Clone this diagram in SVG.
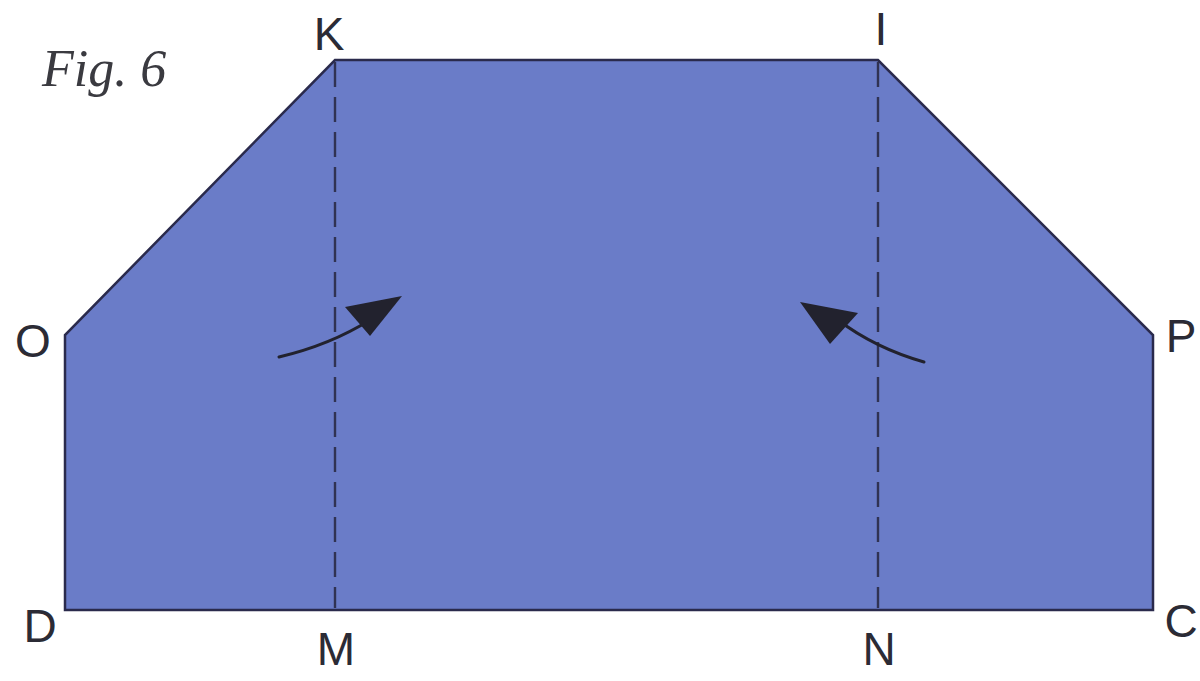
<svg xmlns="http://www.w3.org/2000/svg" width="1200" height="681" viewBox="0 0 1200 681">
<style>
.lbl{font-family:"Liberation Sans",Arial,sans-serif;font-size:46px;fill:#2b2b35}
.fold{stroke:#303252;stroke-width:2.4;stroke-dasharray:25 10;fill:none}
.arr{stroke:#22222e;stroke-width:3;fill:none;stroke-linecap:round}
.head{fill:#22222e}
</style>
<rect width="1200" height="681" fill="#ffffff"/>
<g id="paper">
<polygon points="335,60 878,60 1153,335 1153,610 65,610 65,335" fill="#6a7cc8" stroke="#2a2a4c" stroke-width="2.5"/>
</g>
<g id="connectors">
<line class="fold" x1="335" y1="62" x2="335" y2="608"/>
<line class="fold" x1="878" y1="62" x2="878" y2="608"/>
<path class="arr" d="M279,357 Q330,345 370,320"/>
<polygon class="head" points="402,296 345,307 370,336"/>
<path class="arr" d="M924,362 Q875,348 838,320"/>
<polygon class="head" points="800,302 858,313 830,344"/>
</g>
<g id="title"><text x="42" y="86" font-family="'Liberation Serif',serif" font-style="italic" font-size="52" fill="#3a3a40">Fig. 6</text></g>
<g id="labels">
<text class="lbl" x="329" y="50" text-anchor="middle">K</text>
<text class="lbl" x="881" y="45" text-anchor="middle">I</text>
<text class="lbl" x="33" y="357" text-anchor="middle">O</text>
<text class="lbl" x="1181" y="352" text-anchor="middle">P</text>
<text class="lbl" x="40" y="642" text-anchor="middle">D</text>
<text class="lbl" x="336" y="665" text-anchor="middle">M</text>
<text class="lbl" x="879" y="665" text-anchor="middle">N</text>
<text class="lbl" x="1181" y="637" text-anchor="middle">C</text>
</g>
</svg>
